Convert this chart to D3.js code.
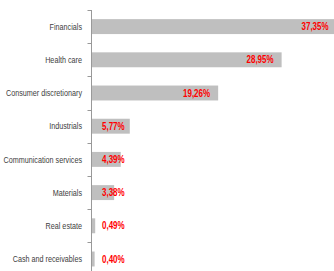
<!DOCTYPE html>
<html>
<head>
<meta charset="utf-8">
<script src="https://cdn.jsdelivr.net/npm/d3@7"></script>
<style>
  body { margin: 0; background: #fff; }
  svg { display: block; }
  .cat { font-family: "Liberation Sans", Arial, sans-serif; font-size: 9px; fill: #404040; }
  .val { font-family: "Liberation Sans", Arial, sans-serif; font-size: 10px; font-weight: bold; fill: #ff0000; }
</style>
</head>
<body>
<svg id="chart" width="334" height="271"></svg>
<script>
// sectors and weights (%)
var sectors = ["Financials", "Health care", "Consumer discretionary", "Industrials",
               "Communication services", "Materials", "Real estate", "Cash and receivables"];
var weights = [37.35, 28.95, 19.26, 5.77, 4.39, 3.38, 0.49, 0.40];
var weightLabels = ["37,35%", "28,95%", "19,26%", "5,77%", "4,39%", "3,38%", "0,49%", "0,40%"];

var svg = d3.select("#chart");
var x0 = 92;
var squeeze = 0.8; // narrow look of the original font

var x = d3.scaleLinear()
    .domain([0, 40])
    .range([x0, x0 + 262]);

var y = d3.scaleBand()
    .domain(sectors)
    .range([10, 275.6])
    .paddingInner(0.55)
    .paddingOuter(0.275);

// bars
svg.selectAll("rect.bar")
    .data(sectors)
    .enter()
    .append("rect")
        .attr("class", "bar")
        .attr("x", x(0))
        .attr("y", function(d){ return y(d) })
        .attr("width", function(d,i){ return x(weights[i]) - x(0) })
        .attr("height", y.bandwidth())
        .style("fill", "#bfbfbf")

// axis line with ticks between bands
var step = y.step();
var edges = d3.range(sectors.length + 1).map(function(i){ return 10 + i*step });
svg.append("line")
    .attr("x1", x0 - 0.5).attr("x2", x0 - 0.5)
    .attr("y1", 10).attr("y2", 271)
    .style("stroke", "#999").style("stroke-width", 1)
svg.selectAll("line.tick")
    .data(edges)
    .enter()
    .append("line")
        .attr("class", "tick")
        .attr("x1", x0 - 4.5).attr("x2", x0 - 0.5)
        .attr("y1", function(d){ return Math.round(d) + 0.5 })
        .attr("y2", function(d){ return Math.round(d) + 0.5 })
        .style("stroke", "#999")

// category labels
svg.selectAll("text.cat")
    .data(sectors)
    .enter()
    .append("text")
        .attr("class", "cat")
        .attr("x", x0 - 10)
        .attr("y", function(d){ return y(d) + y.bandwidth()/2 })
        .attr("dy", "0.35em")
        .attr("text-anchor", "end")
        .text(function(d){ return d })
        .each(function(){
            var w = this.getComputedTextLength();
            d3.select(this).attr("textLength", w*squeeze).attr("lengthAdjust", "spacingAndGlyphs");
        })

// value labels: inside the bar end, but never left of a minimum position
svg.selectAll("text.val")
    .data(sectors)
    .enter()
    .append("text")
        .attr("class", "val")
        .attr("y", function(d){ return y(d) + y.bandwidth()/2 })
        .attr("dy", "0.36em")
        .text(function(d,i){ return weightLabels[i] })
        .each(function(d,i){
            var w = this.getComputedTextLength()*squeeze;
            var end = Math.min(x(weights[i]) - 8, 331);
            var start = Math.max(end - w, x0 + 10);
            d3.select(this).attr("x", start)
                .attr("textLength", w).attr("lengthAdjust", "spacingAndGlyphs");
        })
</script>
</body>
</html>
